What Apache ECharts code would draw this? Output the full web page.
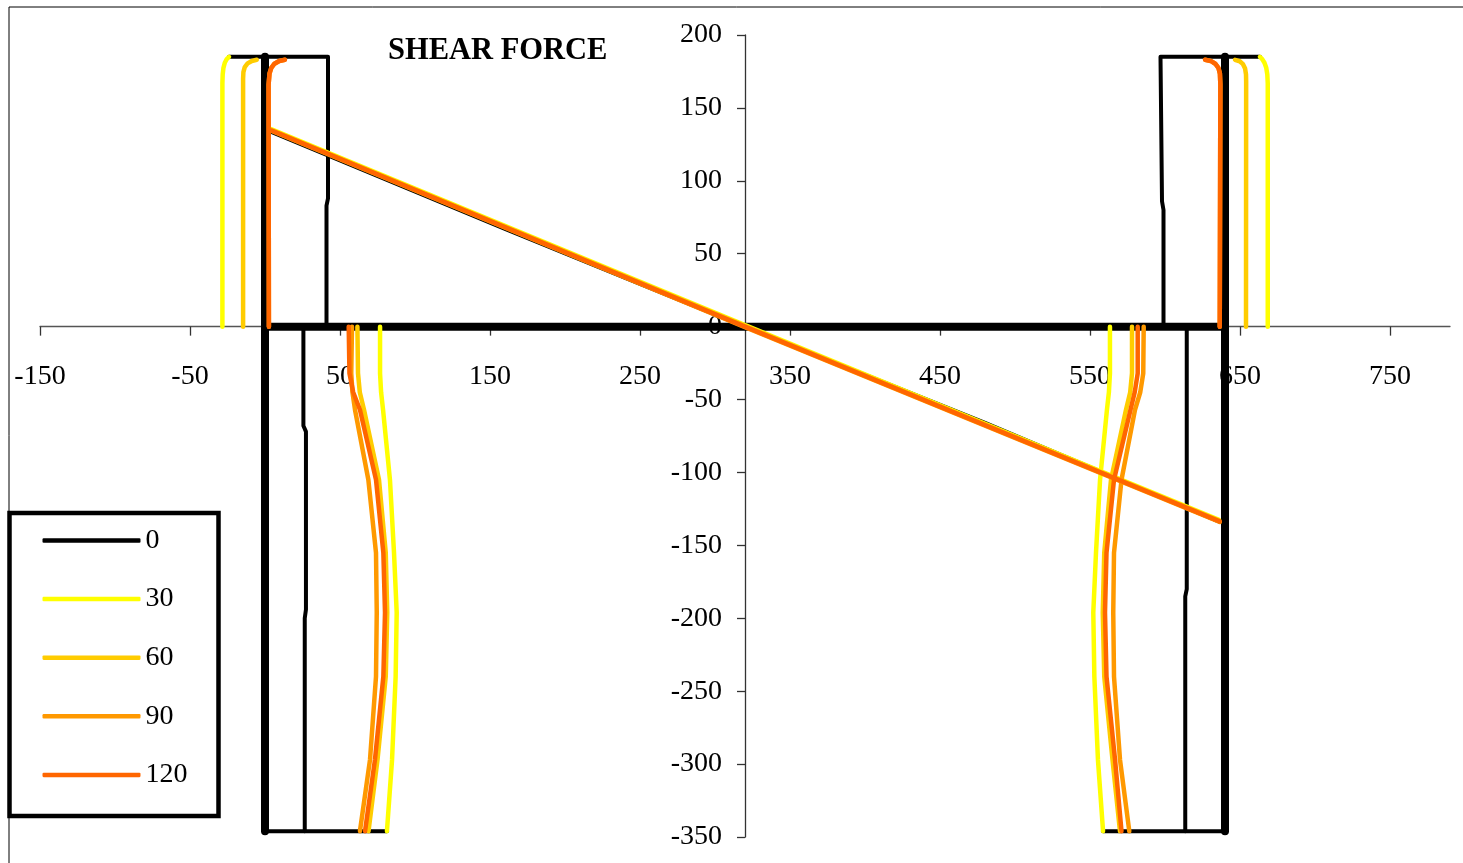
<!DOCTYPE html>
<html>
<head>
<meta charset="utf-8">
<script src="https://cdn.jsdelivr.net/npm/echarts@6/dist/echarts.min.js"></script>
<style>
html,body{margin:0;padding:0;background:#fff;}
#chart{width:1463px;height:863px;}
</style>
</head>
<body>
<div id="chart"></div>
<script>
// ---- tick labels ----
const xTicks = [-150, -50, 50, 150, 250, 350, 450, 550, 650, 750];
const yTicks = [-350, -300, -250, -200, -150, -100, -50, 0, 50, 100, 150, 200];
const legendNames = ['0', '30', '60', '90', '120'];

// ---- series "0" (black) ----
const frameLeft  = [[0, 185], [0, -346]];
const frameRight = [[640, 185], [640, -346]];
const frameBeam  = [[0, 0], [640, 0]];
const s0TopLeft     = [[-24, 185], [42, 185], [42, 88], [41, 83], [41, 0]];
const s0BottomLeft  = [[25.6, 0], [25.6, -68], [27.3, -72], [27.3, -194], [26.5, -200], [26.5, -346]];
const s0BaseLeft    = [[0, -346], [81.3, -346]];
const s0TopRight    = [[663.3, 185], [597, 185], [598, 185], [598, 86], [599, 80], [599, 0]];
const s0BottomRight = [[614.5, 0], [614.5, -180], [613.5, -185], [613.5, -346]];
const s0BaseRight   = [[558.7, -346], [640, -346]];
const s0Shear       = [[3, 134], [160, 67], [320, 0], [480, -66], [637, -134]];

// ---- series "30" (yellow) ----
const s30TopLeft     = [[-24, 185], [-25.5, 183.5], [-26.8, 181], [-27.7, 177.5], [-28.2, 173], [-28.4, 167], [-28.4, 0]];
const s30BottomLeft  = [[76.7, 0], [76.7, -32], [77.4, -45], [78.7, -57], [83.3, -105], [86, -155], [87.8, -196], [87.1, -240], [84.7, -297], [81.3, -346]];
const s30TopRight    = [[663.3, 185], [664.8, 183.5], [666.3, 181], [667.5, 177.5], [668.2, 173], [668.5, 167], [668.5, 0]];
const s30BottomRight = [[563.3, 0], [563.3, -32], [562.6, -45], [561.3, -57], [556.7, -105], [554, -155], [552.2, -196], [552.9, -240], [555.3, -297], [558.7, -346]];
const s30Shear       = [[4, 135.5], [320, 1], [636, -132.5]];

// ---- series "60" (gold) ----
const s60TopLeft     = [[-5.5, 183], [-8.8, 182.2], [-11.6, 180.5], [-13.5, 178], [-14.4, 174.5], [-14.6, 170], [-14.6, 0]];
const s60BottomLeft  = [[61.6, 0], [62, -32], [63.2, -45], [66, -57], [76, -105], [80.5, -155], [81.5, -196], [80.5, -240], [75, -297], [69, -346]];
const s60TopRight    = [[646.7, 183], [649.8, 182], [652, 180], [653.4, 177], [654, 173], [654.1, 168], [654, 0]];
const s60BottomRight = [[578, 0], [578, -32], [576.8, -45], [574, -57], [564, -105], [559.5, -155], [558.5, -196], [559.5, -240], [565, -297], [570, -346]];
const s60Shear       = [[4, 135], [320, 0.6], [636, -133]];

// ---- series "90" (orange) ----
const s90TopLeft     = [[13.3, 183], [9.5, 182.2], [6.3, 180.3], [4.2, 177.5], [3, 173.5], [2.4, 166], [2.6, 0]];
const s90BottomLeft  = [[58, 0], [57.5, -32], [58.3, -45], [60, -57], [68.9, -105], [74, -155], [74.5, -196], [74, -240], [70, -297], [63.3, -346]];
const s90TopRight    = [[626.7, 183], [630.5, 182.2], [633.5, 180.3], [635.6, 177.5], [636.6, 173.5], [636.9, 166], [636.5, 0]];
const s90BottomRight = [[585.8, 0], [585.5, -32], [583.5, -45], [580, -57], [571, -105], [566, -155], [565.5, -196], [566, -240], [570, -297], [576.2, -346]];
const s90Shear       = [[4.5, 134.2], [320, -0.3], [636.5, -134]];

// ---- series "120" (red-orange) ----
const s120TopLeft     = [[13.3, 183], [9.5, 182.2], [6.3, 180.3], [4.2, 177.5], [3, 173.5], [2.4, 166], [2.6, 0]];
const s120BottomLeft  = [[55.8, 0], [56.3, -32], [58.8, -45], [63.3, -57], [74, -105], [78.9, -155], [80, -196], [78.9, -240], [73.3, -297], [66.7, -346]];
const s120TopRight    = [[626.7, 183], [630.5, 182.2], [633.5, 180.3], [635.6, 177.5], [636.6, 173.5], [636.9, 166], [636.5, 0]];
const s120BottomRight = [[581.8, 0], [581.8, -32], [579.8, -45], [577, -57], [566, -105], [561, -155], [560, -196], [561, -240], [566.7, -297], [571, -346]];
const s120Shear       = [[4.5, 134.5], [320, 0], [636.5, -133.5]];

const COLORS = {'0': '#000000', '30': '#FFFF00', '60': '#FFCC00', '90': '#FF9900', '120': '#FF6600'};
const FONT = 'Liberation Serif, Times New Roman, serif';

const X_MIN = -150, X_MAX = 790, Y_CROSS_X = 320;
const Y_MIN = yTicks[0], Y_MAX = yTicks[yTicks.length - 1];
const GRID = {left: 40, right: 13, top: 35, bottom: 26};
const gridWidth = 1463 - GRID.left - GRID.right;
const gridHeight = 863 - GRID.top - GRID.bottom;

const groups = [
  {name: '0', width: 8, parts: [frameLeft, frameRight, frameBeam]},
  {name: '0', width: 4, parts: [s0TopLeft, s0BottomLeft, s0BaseLeft, s0TopRight, s0BottomRight, s0BaseRight, s0Shear]},
  {name: '30', width: 4.5, parts: [s30TopLeft, s30BottomLeft, s30TopRight, s30BottomRight, s30Shear]},
  {name: '60', width: 4.5, parts: [s60TopLeft, s60BottomLeft, s60TopRight, s60BottomRight, s60Shear]},
  {name: '90', width: 4.5, parts: [s90TopLeft, s90BottomLeft, s90TopRight, s90BottomRight, s90Shear]},
  {name: '120', width: 4.5, parts: [s120TopLeft, s120BottomLeft, s120TopRight, s120BottomRight, s120Shear]}
];

const series = [];
let z = 2;
groups.forEach(g => {
  g.parts.forEach(d => {
    series.push({
      type: 'line', name: g.name, data: d,
      symbol: 'none', showSymbol: false, silent: true,
      z: z,
      color: COLORS[g.name],
      lineStyle: {color: COLORS[g.name], width: g.width, cap: 'round', join: 'round'},
      emphasis: {disabled: true}
    });
  });
  z++;
});

const chart = echarts.init(document.getElementById('chart'), null, {renderer: 'canvas'});
chart.setOption({
  animation: false,
  backgroundColor: '#fff',
  title: {
    text: 'SHEAR FORCE', left: 388, top: 36, padding: 0,
    textStyle: {fontFamily: FONT, fontWeight: 'bold', fontSize: 30.5, color: '#000'}
  },
  graphic: [{
    type: 'rect', silent: true, z: -1,
    shape: {x: 9, y: 7, width: 1500, height: 900},
    style: {fill: null, stroke: '#000', lineWidth: 1}
  }],
  legend: {
    data: legendNames,
    orient: 'vertical',
    left: 9.5, top: 513,
    padding: [13.5, 31, 27, 33],
    itemWidth: 98, itemHeight: 4.5, itemGap: 30.6,
    icon: 'roundRect',
    backgroundColor: '#fff',
    borderColor: '#000', borderWidth: 4.5, borderRadius: 0,
    selectedMode: false,
    textStyle: {fontFamily: FONT, fontSize: 28, lineHeight: 28, color: '#000'}
  },
  grid: {left: GRID.left, right: GRID.right, top: GRID.top, bottom: GRID.bottom, containLabel: false, outerBoundsMode: 'none'},
  xAxis: {
    type: 'value', min: X_MIN, max: X_MAX, interval: 100,
    position: 'bottom',
    offset: -((0 - Y_MIN) / (Y_MAX - Y_MIN)) * gridHeight,
    axisLine: {show: true, onZero: false, lineStyle: {color: '#555', width: 1.3}},
    axisTick: {show: true, length: 9, customValues: xTicks, lineStyle: {color: '#333', width: 1.3}},
    axisLabel: {customValues: xTicks, fontFamily: FONT, fontSize: 28, color: '#000', margin: 36},
    splitLine: {show: false}
  },
  yAxis: {
    type: 'value', min: Y_MIN, max: Y_MAX, interval: 50,
    position: 'left',
    offset: -((Y_CROSS_X - X_MIN) / (X_MAX - X_MIN)) * gridWidth,
    axisLine: {show: true, onZero: false, lineStyle: {color: '#333', width: 1.3}},
    axisTick: {show: true, length: 8, lineStyle: {color: '#333', width: 1.3}},
    axisLabel: {fontFamily: FONT, fontSize: 28, color: '#000', margin: 23},
    splitLine: {show: false}
  },
  series: series
});
</script>
</body>
</html>
